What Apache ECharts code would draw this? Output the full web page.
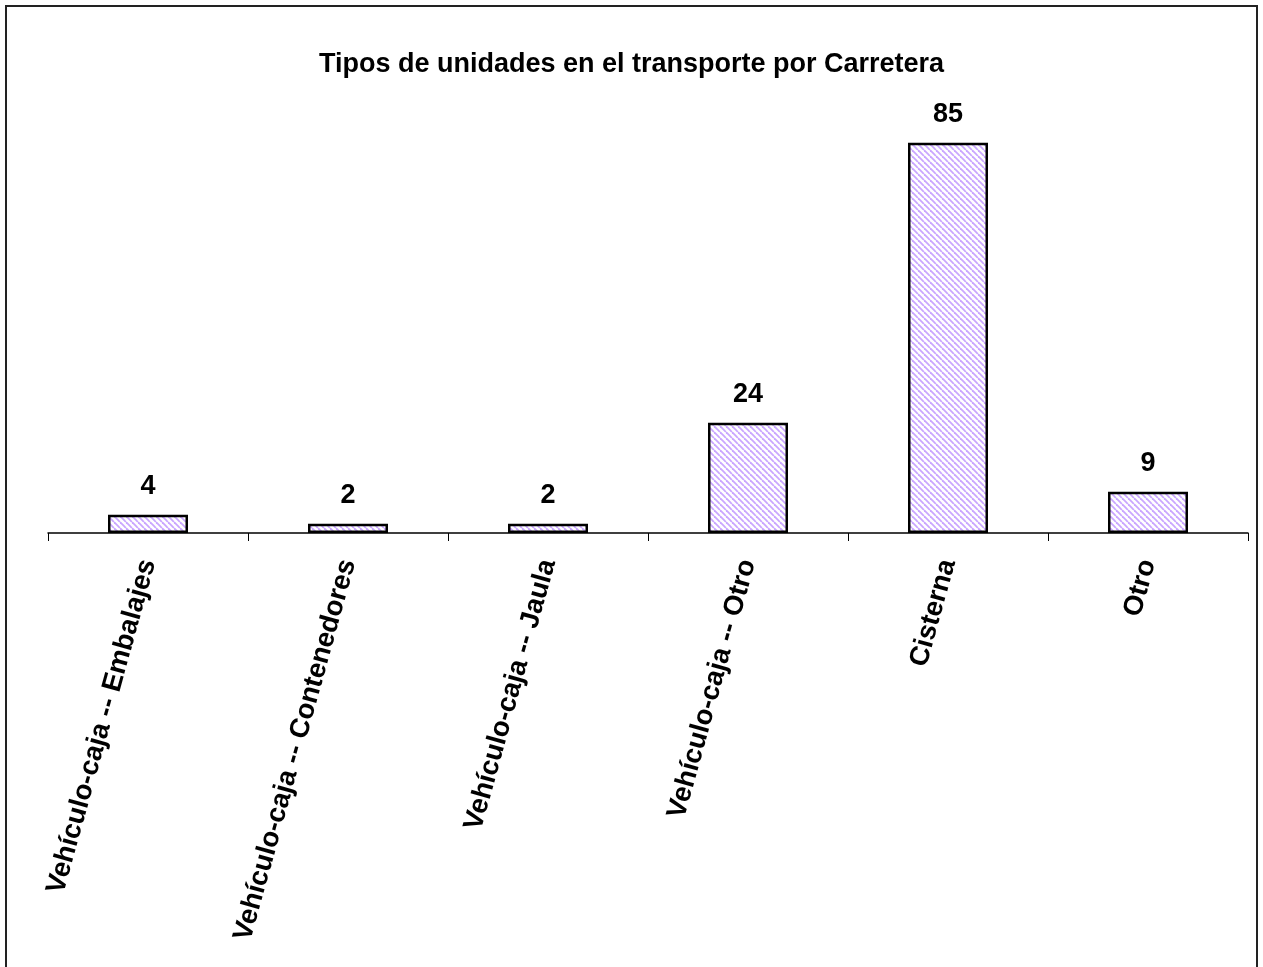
<!DOCTYPE html>
<html>
<head>
<meta charset="utf-8">
<script src="https://cdn.jsdelivr.net/npm/echarts@6/dist/echarts.min.js"></script>
<style>
html,body{margin:0;padding:0;background:#fff;}
#c{width:1263px;height:967px;}
</style>
</head>
<body>
<div id="c"></div>
<script>
var categories = ['Vehículo-caja -- Embalajes','Vehículo-caja -- Contenedores','Vehículo-caja -- Jaula','Vehículo-caja -- Otro','Cisterna','Otro'];
var values = [4, 2, 2, 24, 85, 9];
var titleText = 'Tipos de unidades en el transporte por Carretera';

function makePattern() {
  var s = 6;
  var cv = document.createElement('canvas');
  cv.width = s; cv.height = s;
  var ctx = cv.getContext('2d');
  ctx.fillStyle = '#ffffff';
  ctx.fillRect(0, 0, s, s);
  ctx.strokeStyle = '#c9a6ff';
  ctx.lineWidth = 1.8;
  for (var k = -1; k <= 1; k++) {
    ctx.beginPath();
    ctx.moveTo(k * s, 0);
    ctx.lineTo(k * s + s, s);
    ctx.stroke();
  }
  return cv;
}

var chart = echarts.init(document.getElementById('c'));
var font = '"Liberation Sans", Arial, sans-serif';
chart.setOption({
  animation: false,
  backgroundColor: '#ffffff',
  title: {
    text: titleText,
    left: 'center',
    top: 46,
    textStyle: {fontFamily: font, fontSize: 27, fontWeight: 'bold', color: '#000'}
  },
  graphic: [{
    type: 'rect',
    shape: {x: 6, y: 6, width: 1251, height: 1000},
    style: {fill: 'none', stroke: '#222', lineWidth: 2},
    silent: true
  }],
  grid: {left: 48, right: 15, top: 74, bottom: 434, containLabel: false},
  xAxis: {
    type: 'category',
    data: categories,
    axisLine: {lineStyle: {color: '#000', width: 1.5}},
    axisTick: {show: true, length: 8, lineStyle: {color: '#000', width: 1}},
    axisLabel: {
      interval: 0, rotate: 74.5, margin: 27,
      fontFamily: font, fontSize: 27.5, fontWeight: 'bold', color: '#000'
    }
  },
  yAxis: {
    type: 'value', min: 0, max: 100, show: false,
    splitLine: {show: false}
  },
  series: [{
    type: 'bar',
    data: values,
    barWidth: 80,
    itemStyle: {
      color: {image: makePattern(), repeat: 'repeat'},
      borderColor: '#000',
      borderWidth: 2.5
    },
    label: {
      show: true, position: 'top', distance: 15,
      fontFamily: font, fontSize: 27, fontWeight: 'bold', color: '#000'
    }
  }]
});
</script>
</body>
</html>
